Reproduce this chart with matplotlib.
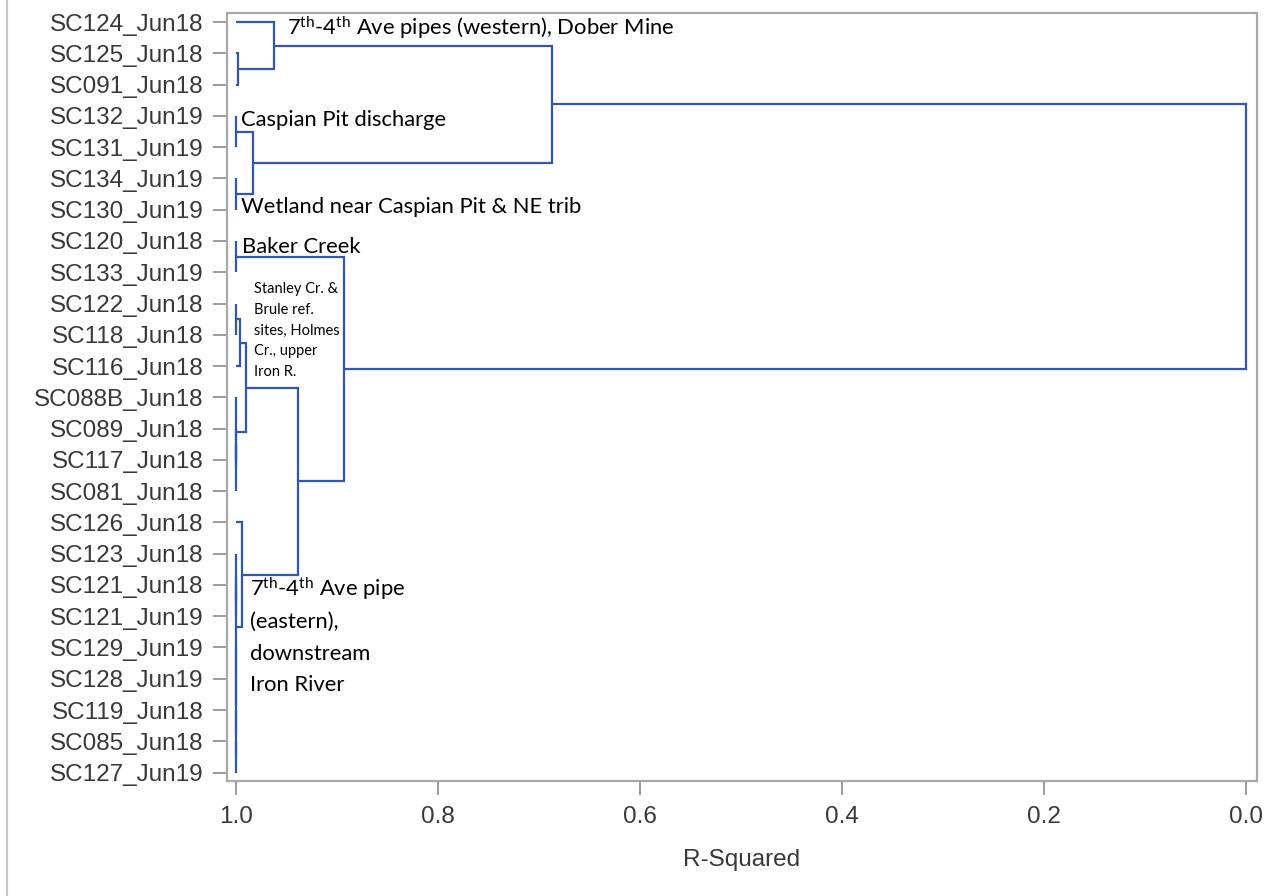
import matplotlib
matplotlib.use("Agg")
import matplotlib.pyplot as plt
from matplotlib.lines import Line2D

# Sample sites, in dendrogram (top-to-bottom) order
leaves = [
    "SC124_Jun18", "SC125_Jun18", "SC091_Jun18", "SC132_Jun19", "SC131_Jun19",
    "SC134_Jun19", "SC130_Jun19", "SC120_Jun18", "SC133_Jun19", "SC122_Jun18",
    "SC118_Jun18", "SC116_Jun18", "SC088B_Jun18", "SC089_Jun18", "SC117_Jun18",
    "SC081_Jun18", "SC126_Jun18", "SC123_Jun18", "SC121_Jun18", "SC121_Jun19",
    "SC129_Jun19", "SC128_Jun19", "SC119_Jun18", "SC085_Jun18", "SC127_Jun19",
]

# Cluster joins: node ids 0..24 are leaves, node 25+i is created by join i
merge_left = [1, 0, 3, 5, 27, 26, 7, 9, 32, 13, 34, 12, 33,
              18, 17, 23, 22, 21, 20, 39, 16, 37, 31, 30]
merge_right = [2, 25, 4, 6, 28, 29, 8, 10, 11, 14, 15, 35, 36,
               19, 38, 24, 40, 41, 42, 43, 44, 45, 46, 47]
merge_rsq = [0.998, 0.9624, 0.9995, 0.9995, 0.983, 0.6874, 0.9995, 0.9995,
             0.996, 0.99985, 0.9997, 0.9995, 0.990,
             0.9999, 0.99985, 0.9999, 0.99985, 0.9998, 0.99975, 0.9997,
             0.994, 0.9387, 0.893, 0.0]

x_ticks = [1.0, 0.8, 0.6, 0.4, 0.2, 0.0]

LINE_BLUE = "#2F56B0"
FRAME_GRAY = "#A9A9A9"
TEXT_GRAY = "#383838"

fig = plt.figure(figsize=(12.7, 8.96), dpi=100)
ax = fig.add_axes([227 / 1270, 1 - 781 / 896, (1257 - 227) / 1270, (781 - 13) / 896])

# node heights and vertical positions
height = {i: 1.0 for i in range(len(leaves))}
ypos = {i: float(i) for i in range(len(leaves))}
for k, (a, b, r) in enumerate(zip(merge_left, merge_right, merge_rsq)):
    node = len(leaves) + k
    height[node] = r
    ypos[node] = (ypos[a] + ypos[b]) / 2
    ax.plot([height[a], r, r, height[b]], [ypos[a], ypos[a], ypos[b], ypos[b]],
            color=LINE_BLUE, lw=1.6, solid_joinstyle="miter", solid_capstyle="butt")

ax.set_xlim(1.0089, -0.0105)
ax.set_ylim(len(leaves) - 1 + 0.27, -0.29)

ax.set_yticks(range(len(leaves)))
ax.set_yticklabels(leaves)
ax.set_xticks(x_ticks)
ax.set_xticklabels([f"{v:.1f}" for v in x_ticks])

for lab in ax.get_yticklabels() + ax.get_xticklabels():
    lab.set_fontfamily("Liberation Sans")
    lab.set_fontsize(17.5)
    lab.set_color(TEXT_GRAY)

ax.tick_params(axis="y", length=10, width=1.2, color="#8C8C8C", pad=7)
ax.tick_params(axis="x", length=10, width=1.2, color="#8C8C8C", pad=8)
ax.set_xlabel("R-Squared", fontfamily="Liberation Sans", fontsize=17.5,
              color=TEXT_GRAY, labelpad=15)

for sp in ax.spines.values():
    sp.set_color(FRAME_GRAY)
    sp.set_linewidth(1.6)

# cluster annotations
plt.rcParams["mathtext.fontset"] = "custom"
plt.rcParams["mathtext.rm"] = "Lato"
plt.rcParams["mathtext.it"] = "Lato:italic"
plt.rcParams["mathtext.bf"] = "Lato:bold"

big = dict(fontfamily="Lato", fontsize=15.8, color="black", va="baseline", ha="left")
small = dict(fontfamily="Lato", fontsize=10.5, color="black", va="baseline", ha="left")

ax.text(0.9496, 0.416, r"7$^{\mathrm{th}}$-4$^{\mathrm{th}}$ Ave pipes (western), Dober Mine", **big)
ax.text(0.9951, 3.328, "Caspian Pit discharge", **big)
ax.text(0.9951, 6.112, "Wetland near Caspian Pit & NE trib", **big)
ax.text(0.9941, 7.392, "Baker Creek", **big)

small_lines = ["Stanley Cr. &", "Brule ref.", "sites, Holmes", "Cr., upper", "Iron R."]
for i, s in enumerate(small_lines):
    ax.text(0.9822, 8.672 + 0.662 * i, s, **small)

east_lines = [r"7$^{\mathrm{th}}$-4$^{\mathrm{th}}$ Ave pipe", "(eastern),", "downstream", "Iron River"]
for i, s in enumerate(east_lines):
    ax.text(0.9862, 18.368 + 1.013 * i, s, **big)

# thin border along the left edge of the figure
fig.add_artist(Line2D([7 / 1270, 7 / 1270], [0, 1], transform=fig.transFigure,
                      color="#C8C8C8", lw=1.5))

fig.savefig("out.png", dpi=100, facecolor="white")
